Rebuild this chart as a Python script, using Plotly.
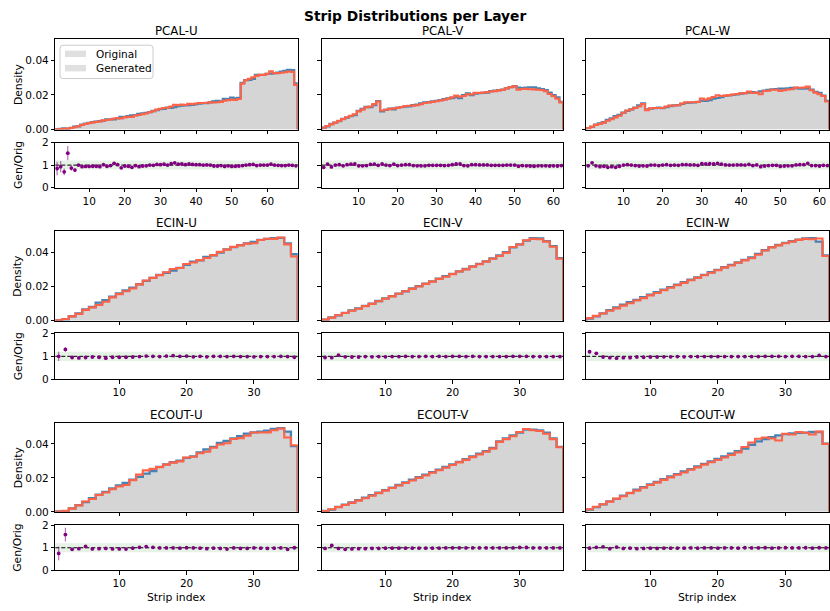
import numpy as np
import plotly.graph_objects as go

# ---------------- data ----------------
PANEL_NAMES = ["PCAL-U", "PCAL-V", "PCAL-W", "ECIN-U", "ECIN-V", "ECIN-W",
               "ECOUT-U", "ECOUT-V", "ECOUT-W"]
X_TICKS = [10, 20, 30, 40, 50, 60]
Y_TICKS_MAIN = [0.0, 0.02, 0.04]
Y_TICKS_RATIO = [0, 1, 2]

PCALU_ORIG = [0.0002,0.0003,0.0006,0.0004,0.0010,0.0017,0.0019,0.0028,0.0034,0.0039,
              0.0043,0.0046,0.0049,0.0052,0.0058,0.0059,0.0059,0.0065,0.0073,0.0073,
              0.0077,0.0081,0.0083,0.0090,0.0093,0.0096,0.0100,0.0107,0.0112,0.0118,
              0.0119,0.0126,0.0125,0.0130,0.0136,0.0138,0.0139,0.0141,0.0143,0.0147,
              0.0150,0.0153,0.0153,0.0157,0.0163,0.0165,0.0163,0.0177,0.0175,0.0184,
              0.0180,0.0183,0.0270,0.0285,0.0287,0.0293,0.0316,0.0316,0.0316,0.0322,
              0.0323,0.0326,0.0328,0.0335,0.0338,0.0345,0.0343,0.0266]
PCALU_GEN = [0.0002,0.0003,0.0004,0.0006,0.0009,0.0013,0.0019,0.0026,0.0032,0.0037,
             0.0041,0.0044,0.0046,0.0053,0.0055,0.0058,0.0064,0.0066,0.0064,0.0070,
             0.0073,0.0073,0.0081,0.0084,0.0089,0.0093,0.0100,0.0106,0.0115,0.0120,
             0.0124,0.0126,0.0133,0.0143,0.0141,0.0145,0.0142,0.0148,0.0147,0.0150,
             0.0153,0.0153,0.0155,0.0157,0.0156,0.0158,0.0160,0.0166,0.0170,0.0173,
             0.0171,0.0176,0.0265,0.0285,0.0293,0.0302,0.0310,0.0316,0.0316,0.0322,
             0.0336,0.0326,0.0325,0.0328,0.0331,0.0335,0.0333,0.0258]
PCALU_RATIO = [0.85,0.93,0.70,1.53,0.87,0.78,1.00,0.93,0.94,0.94,
               0.95,0.95,0.93,1.02,0.95,0.98,1.08,1.02,0.88,0.96,
               0.95,0.90,0.98,0.93,0.96,0.97,1.00,0.99,1.03,1.02,
               1.04,1.00,1.06,1.10,1.04,1.05,1.02,1.05,1.03,1.02,
               1.02,1.00,1.01,1.00,0.96,0.96,0.98,0.94,0.97,0.94,
               0.95,0.96,0.98,1.00,1.02,1.03,0.98,1.00,1.00,1.00,
               1.04,1.00,0.99,0.98,0.98,1.00,0.99,0.97]
PCALU_ERR = [0.30,0.25,0.15,0.32,0.12,0.08,0.05,0.04,0.04,0.03,
             0.03,0.03,0.03,0.03,0.03,0.03,0.03,0.03,0.02,0.02,
             0.02,0.02,0.02,0.02,0.02,0.02,0.02,0.02,0.02,0.02,
             0.02,0.02,0.02,0.02,0.02,0.02,0.02,0.02,0.02,0.02,
             0.02,0.02,0.02,0.02,0.02,0.02,0.02,0.02,0.02,0.02,
             0.02,0.02,0.02,0.02,0.02,0.02,0.02,0.02,0.02,0.02,
             0.02,0.02,0.02,0.02,0.02,0.02,0.02,0.02]

PCALV_ORIG = [0.0011,0.0019,0.0033,0.0040,0.0049,0.0062,0.0069,0.0077,0.0084,0.0108,
              0.0119,0.0131,0.0129,0.0141,0.0164,0.0105,0.0114,0.0120,0.0117,0.0127,
              0.0130,0.0133,0.0134,0.0141,0.0144,0.0151,0.0157,0.0158,0.0162,0.0165,
              0.0170,0.0175,0.0180,0.0182,0.0187,0.0181,0.0198,0.0209,0.0199,0.0208,
              0.0210,0.0212,0.0214,0.0222,0.0224,0.0228,0.0231,0.0238,0.0245,0.0250,
              0.0242,0.0239,0.0242,0.0243,0.0244,0.0238,0.0233,0.0228,0.0213,0.0198,
              0.0185,0.0160]
PCALV_GEN = [0.0010,0.0020,0.0030,0.0040,0.0050,0.0060,0.0070,0.0080,0.0088,0.0105,
             0.0115,0.0128,0.0133,0.0147,0.0162,0.0110,0.0114,0.0118,0.0122,0.0124,
             0.0130,0.0136,0.0137,0.0138,0.0140,0.0146,0.0153,0.0156,0.0160,0.0163,
             0.0168,0.0172,0.0178,0.0186,0.0196,0.0190,0.0194,0.0203,0.0203,0.0212,
             0.0212,0.0214,0.0216,0.0220,0.0222,0.0226,0.0229,0.0238,0.0245,0.0250,
             0.0230,0.0234,0.0235,0.0233,0.0232,0.0230,0.0228,0.0222,0.0205,0.0192,
             0.0178,0.0157]
PCALV_RATIO = [0.90,1.04,0.92,1.00,1.02,0.97,1.02,1.04,1.05,0.97,
               0.97,0.98,1.03,1.04,0.99,1.05,1.00,0.98,1.04,0.98,
               1.00,1.02,1.02,0.98,0.97,0.97,0.97,0.99,0.99,0.99,
               0.99,0.98,0.99,1.02,1.05,1.05,0.98,0.97,1.02,1.02,
               1.01,1.01,1.01,0.99,0.99,0.99,0.99,1.00,1.00,1.00,
               0.95,0.98,0.97,0.96,0.95,0.97,0.97,0.97,0.96,0.97,
               0.96,0.98]
PCALV_ERR = [0.05,0.04,0.03,0.03,0.02,0.02,0.02,0.02,0.02,0.02,
             0.02,0.02,0.02,0.02,0.02,0.02,0.02,0.02,0.02,0.02,
             0.02,0.02,0.02,0.02,0.02,0.02,0.02,0.02,0.02,0.02,
             0.02,0.02,0.02,0.02,0.02,0.02,0.02,0.02,0.02,0.02,
             0.02,0.02,0.02,0.02,0.02,0.02,0.02,0.02,0.02,0.02,
             0.02,0.02,0.02,0.02,0.02,0.02,0.02,0.02,0.02,0.02,
             0.02,0.02]

PCALW_ORIG = [0.0008,0.0015,0.0028,0.0035,0.0042,0.0055,0.0064,0.0077,0.0085,0.0097,
              0.0108,0.0116,0.0127,0.0139,0.0151,0.0116,0.0121,0.0124,0.0126,0.0124,
              0.0130,0.0136,0.0139,0.0141,0.0148,0.0154,0.0156,0.0157,0.0160,0.0167,
              0.0165,0.0170,0.0179,0.0183,0.0187,0.0194,0.0197,0.0200,0.0203,0.0207,
              0.0210,0.0213,0.0216,0.0212,0.0220,0.0225,0.0229,0.0232,0.0233,0.0236,
              0.0236,0.0238,0.0240,0.0240,0.0236,0.0237,0.0238,0.0231,0.0218,0.0212,
              0.0196,0.0165]
PCALW_GEN = [0.0008,0.0017,0.0027,0.0032,0.0040,0.0051,0.0059,0.0070,0.0080,0.0097,
             0.0110,0.0116,0.0124,0.0133,0.0147,0.0112,0.0122,0.0124,0.0124,0.0124,
             0.0133,0.0138,0.0139,0.0140,0.0150,0.0157,0.0158,0.0158,0.0159,0.0179,
             0.0173,0.0180,0.0188,0.0198,0.0194,0.0196,0.0199,0.0202,0.0205,0.0209,
             0.0210,0.0219,0.0211,0.0213,0.0204,0.0223,0.0224,0.0230,0.0230,0.0223,
             0.0227,0.0231,0.0233,0.0242,0.0241,0.0242,0.0248,0.0227,0.0213,0.0204,
             0.0194,0.0162]
PCALW_RATIO = [0.97,1.10,0.97,0.93,0.95,0.90,0.93,0.90,0.95,1.00,
               1.02,1.00,0.98,0.96,0.97,0.96,1.00,1.00,0.98,1.00,
               1.02,0.99,1.00,0.99,1.02,1.02,1.01,1.01,0.99,1.07,
               1.05,1.06,1.05,1.08,1.04,1.01,1.00,1.00,1.01,1.01,
               1.00,1.03,0.98,1.01,0.93,0.96,0.98,0.99,0.99,0.94,
               0.96,0.97,0.97,1.01,1.02,1.02,1.08,0.98,0.98,0.96,
               0.99,0.98]
PCALW_ERR = [0.05,0.04,0.03,0.03,0.02,0.02,0.02,0.02,0.02,0.02,
             0.02,0.02,0.02,0.02,0.02,0.02,0.02,0.02,0.02,0.02,
             0.02,0.02,0.02,0.02,0.02,0.02,0.02,0.02,0.02,0.02,
             0.02,0.02,0.02,0.02,0.02,0.02,0.02,0.02,0.02,0.02,
             0.02,0.02,0.02,0.02,0.02,0.02,0.02,0.02,0.02,0.02,
             0.02,0.02,0.02,0.02,0.02,0.02,0.02,0.02,0.02,0.02,
             0.02,0.02]

ECINU_ORIG = [0.0002,0.0008,0.0026,0.0043,0.0066,0.0080,0.0105,0.0120,0.0140,0.0160,
              0.0177,0.0193,0.0213,0.0232,0.0250,0.0268,0.0280,0.0293,0.0308,0.0326,
              0.0345,0.0353,0.0373,0.0382,0.0398,0.0417,0.0430,0.0441,0.0452,0.0460,
              0.0472,0.0478,0.0482,0.0484,0.0452,0.0388]
ECINU_GEN = [0.0002,0.0010,0.0025,0.0040,0.0063,0.0078,0.0092,0.0111,0.0136,0.0155,
             0.0172,0.0188,0.0212,0.0235,0.0250,0.0266,0.0283,0.0302,0.0308,0.0331,
             0.0340,0.0354,0.0366,0.0383,0.0402,0.0415,0.0431,0.0440,0.0450,0.0452,
             0.0471,0.0479,0.0478,0.0486,0.0446,0.0375]
ECINU_RATIO = [1.00,1.30,0.95,0.93,0.95,0.97,0.96,0.92,0.96,0.96,
               0.96,0.97,0.99,1.01,1.00,0.99,1.01,1.03,1.00,1.01,
               0.98,1.00,0.98,1.00,1.00,0.99,1.00,0.99,0.99,0.98,
               0.99,0.99,0.99,1.00,0.99,0.96]
ECINU_ERR = [0.20,0.10,0.05,0.03,0.02,0.02,0.02,0.02,0.02,0.02,
             0.02,0.02,0.02,0.02,0.02,0.02,0.02,0.02,0.02,0.02,
             0.02,0.02,0.02,0.02,0.02,0.02,0.02,0.02,0.02,0.02,
             0.02,0.02,0.02,0.02,0.02,0.02]

ECINV_ORIG = [0.0006,0.0019,0.0031,0.0046,0.0060,0.0072,0.0086,0.0100,0.0115,0.0130,
              0.0143,0.0158,0.0172,0.0188,0.0202,0.0216,0.0230,0.0245,0.0260,0.0273,
              0.0288,0.0302,0.0317,0.0332,0.0347,0.0364,0.0382,0.0400,0.0428,0.0446,
              0.0468,0.0482,0.0480,0.0465,0.0436,0.0365]
ECINV_GEN = [0.0006,0.0018,0.0032,0.0045,0.0058,0.0070,0.0085,0.0098,0.0114,0.0128,
             0.0142,0.0157,0.0172,0.0186,0.0200,0.0215,0.0228,0.0244,0.0257,0.0272,
             0.0287,0.0300,0.0316,0.0330,0.0345,0.0362,0.0378,0.0396,0.0430,0.0445,
             0.0470,0.0478,0.0476,0.0462,0.0432,0.0362]
ECINV_RATIO = [0.95,0.94,1.05,0.98,0.97,0.97,0.99,0.98,0.99,0.98,
               0.99,0.99,1.00,0.99,0.99,1.00,0.99,1.00,0.99,1.00,
               1.00,0.99,1.00,0.99,0.99,0.99,0.99,0.99,1.00,1.00,
               1.00,0.99,0.99,0.99,0.99,0.99]
ECINV_ERR = [0.05,0.04,0.03,0.02,0.02,0.02,0.02,0.02,0.02,0.02,
             0.02,0.02,0.02,0.02,0.02,0.02,0.02,0.02,0.02,0.02,
             0.02,0.02,0.02,0.02,0.02,0.02,0.02,0.02,0.02,0.02,
             0.02,0.02,0.02,0.02,0.02,0.02]

ECINW_ORIG = [0.0012,0.0025,0.0043,0.0062,0.0078,0.0094,0.0108,0.0122,0.0138,0.0152,
              0.0166,0.0181,0.0196,0.0210,0.0225,0.0239,0.0253,0.0268,0.0283,0.0297,
              0.0312,0.0326,0.0340,0.0355,0.0370,0.0390,0.0412,0.0430,0.0442,0.0455,
              0.0464,0.0474,0.0480,0.0482,0.0462,0.0382]
ECINW_GEN = [0.0015,0.0028,0.0042,0.0058,0.0072,0.0088,0.0102,0.0118,0.0132,0.0148,
             0.0162,0.0178,0.0192,0.0207,0.0221,0.0236,0.0250,0.0265,0.0280,0.0295,
             0.0310,0.0322,0.0338,0.0352,0.0365,0.0385,0.0410,0.0428,0.0440,0.0452,
             0.0462,0.0472,0.0478,0.0476,0.0480,0.0378]
ECINW_RATIO = [1.20,1.13,0.97,0.94,0.92,0.94,0.94,0.97,0.96,0.97,
               0.97,0.98,0.98,0.99,0.98,0.99,0.99,0.99,0.99,0.99,
               0.99,0.99,0.99,0.99,0.99,0.99,1.00,1.00,1.00,0.99,
               1.00,1.00,0.99,0.99,1.04,0.99]
ECINW_ERR = [0.06,0.04,0.03,0.02,0.02,0.02,0.02,0.02,0.02,0.02,
             0.02,0.02,0.02,0.02,0.02,0.02,0.02,0.02,0.02,0.02,
             0.02,0.02,0.02,0.02,0.02,0.02,0.02,0.02,0.02,0.02,
             0.02,0.02,0.02,0.02,0.02,0.02]

ECOUTU_ORIG = [0.0003,0.0004,0.0020,0.0040,0.0058,0.0080,0.0102,0.0118,0.0138,0.0155,
               0.0171,0.0190,0.0206,0.0225,0.0240,0.0265,0.0280,0.0292,0.0301,0.0318,
               0.0326,0.0350,0.0368,0.0382,0.0406,0.0418,0.0432,0.0446,0.0460,0.0468,
               0.0472,0.0478,0.0488,0.0492,0.0472,0.0387]
ECOUTU_GEN = [0.0002,0.0006,0.0019,0.0038,0.0061,0.0076,0.0099,0.0114,0.0133,0.0149,
              0.0158,0.0187,0.0219,0.0244,0.0253,0.0263,0.0278,0.0290,0.0297,0.0320,
              0.0324,0.0345,0.0354,0.0377,0.0396,0.0404,0.0429,0.0434,0.0448,0.0467,
              0.0467,0.0468,0.0480,0.0491,0.0438,0.0392]
ECOUTU_RATIO = [0.75,1.58,0.93,0.96,1.06,0.95,0.96,0.97,0.95,0.95,
                0.94,0.98,1.02,1.05,1.02,0.99,0.99,0.99,0.98,1.00,
                0.99,0.98,0.96,0.98,0.97,0.94,0.99,0.97,0.97,0.99,
                0.98,0.97,0.98,0.99,0.93,1.00]
ECOUTU_ERR = [0.30,0.30,0.06,0.04,0.03,0.02,0.02,0.02,0.02,0.02,
              0.02,0.02,0.02,0.02,0.02,0.02,0.02,0.02,0.02,0.02,
              0.02,0.02,0.02,0.02,0.02,0.02,0.02,0.02,0.02,0.02,
              0.02,0.02,0.02,0.02,0.02,0.02]

ECOUTV_ORIG = [0.0005,0.0013,0.0029,0.0043,0.0056,0.0069,0.0083,0.0098,0.0113,0.0128,
               0.0143,0.0158,0.0173,0.0189,0.0204,0.0219,0.0234,0.0249,0.0264,0.0279,
               0.0294,0.0310,0.0326,0.0342,0.0358,0.0376,0.0414,0.0432,0.0450,0.0466,
               0.0484,0.0484,0.0480,0.0466,0.0432,0.0382]
ECOUTV_GEN = [0.0005,0.0015,0.0028,0.0040,0.0053,0.0066,0.0080,0.0095,0.0110,0.0125,
              0.0140,0.0155,0.0170,0.0185,0.0200,0.0214,0.0230,0.0245,0.0260,0.0276,
              0.0291,0.0306,0.0322,0.0338,0.0354,0.0372,0.0412,0.0428,0.0445,0.0470,
              0.0488,0.0480,0.0476,0.0460,0.0428,0.0380]
ECOUTV_RATIO = [0.97,1.10,0.97,0.93,0.95,0.96,0.96,0.97,0.97,0.98,
                0.98,0.98,0.98,0.98,0.98,0.98,0.98,0.98,0.99,0.99,
                0.99,0.99,0.99,0.99,0.99,0.99,0.99,0.99,0.99,1.01,
                1.01,0.99,0.99,0.99,0.99,0.99]
ECOUTV_ERR = [0.06,0.04,0.03,0.02,0.02,0.02,0.02,0.02,0.02,0.02,
              0.02,0.02,0.02,0.02,0.02,0.02,0.02,0.02,0.02,0.02,
              0.02,0.02,0.02,0.02,0.02,0.02,0.02,0.02,0.02,0.02,
              0.02,0.02,0.02,0.02,0.02,0.02]

ECOUTW_ORIG = [0.0014,0.0028,0.0044,0.0062,0.0076,0.0095,0.0112,0.0130,0.0146,0.0162,
               0.0177,0.0192,0.0208,0.0222,0.0238,0.0252,0.0268,0.0282,0.0297,0.0312,
               0.0327,0.0342,0.0358,0.0372,0.0395,0.0415,0.0428,0.0440,0.0450,0.0458,
               0.0462,0.0465,0.0466,0.0470,0.0470,0.0402]
ECOUTW_GEN = [0.0015,0.0030,0.0045,0.0060,0.0078,0.0092,0.0110,0.0125,0.0142,0.0158,
              0.0172,0.0188,0.0203,0.0218,0.0232,0.0248,0.0262,0.0278,0.0292,0.0305,
              0.0320,0.0335,0.0350,0.0382,0.0408,0.0430,0.0438,0.0432,0.0420,0.0460,
              0.0455,0.0470,0.0466,0.0455,0.0472,0.0400]
ECOUTW_RATIO = [0.98,1.02,1.04,0.96,1.03,0.97,0.98,0.96,0.97,0.98,
                0.97,0.98,0.98,0.98,0.98,0.99,0.98,0.99,0.99,0.98,
                0.99,0.99,0.98,1.00,0.99,0.99,1.00,0.98,0.99,1.00,
                0.99,0.99,1.00,0.98,1.00,0.99]
ECOUTW_ERR = [0.06,0.04,0.03,0.02,0.02,0.02,0.02,0.02,0.02,0.02,
              0.02,0.02,0.02,0.02,0.02,0.02,0.02,0.02,0.02,0.02,
              0.02,0.02,0.02,0.02,0.02,0.02,0.02,0.02,0.02,0.02,
              0.02,0.02,0.02,0.02,0.02,0.02]

PANELS = [
    (PCALU_ORIG, PCALU_GEN, PCALU_RATIO, PCALU_ERR),
    (PCALV_ORIG, PCALV_GEN, PCALV_RATIO, PCALV_ERR),
    (PCALW_ORIG, PCALW_GEN, PCALW_RATIO, PCALW_ERR),
    (ECINU_ORIG, ECINU_GEN, ECINU_RATIO, ECINU_ERR),
    (ECINV_ORIG, ECINV_GEN, ECINV_RATIO, ECINV_ERR),
    (ECINW_ORIG, ECINW_GEN, ECINW_RATIO, ECINW_ERR),
    (ECOUTU_ORIG, ECOUTU_GEN, ECOUTU_RATIO, ECOUTU_ERR),
    (ECOUTV_ORIG, ECOUTV_GEN, ECOUTV_RATIO, ECOUTV_ERR),
    (ECOUTW_ORIG, ECOUTW_GEN, ECOUTW_RATIO, ECOUTW_ERR),
]

# ---------------- layout geometry (pixels) ----------------
W, H = 830, 611
COL_X = [(55.3, 297.7), (321.7, 563.3), (586.2, 829.3)]
ROW_MAIN = [(33.3, 126.0), (229.3, 321.0), (425.0, 516.0)]
ROW_RATIO = [(139.3, 185.3), (334.0, 380.7), (529.5, 575.7)]
FONT = "DejaVu Sans"
TICKFONT = dict(family=FONT, size=10.5, color="#000")

FILL_COLOR = "#d5d5d5"
ORIG_COLOR = "#4682b4"
GEN_COLOR = "#ff6347"
RATIO_COLOR = "#800080"


def fx(p):
    return p / W


def fy(p):
    return 1 - p / H


def step_xy(vals):
    v = np.asarray(vals, dtype=float)
    edges = np.arange(len(v) + 1) + 0.5
    xs = np.concatenate([[edges[0]], edges, [edges[-1]]])
    ys = np.concatenate([[0.0], v, [v[-1]], [0.0]])
    return xs, ys


fig = go.Figure()
layout = dict(
    width=W, height=H,
    margin=dict(l=0, r=0, t=0, b=0, pad=0),
    paper_bgcolor="white", plot_bgcolor="white",
    showlegend=False,
    font=dict(family=FONT, size=10.5, color="#000"),
)
shapes = []
annotations = []

axis_common = dict(showline=True, mirror=True, linecolor="#000", linewidth=0.9,
                   showgrid=False, zeroline=False, ticks="outside", ticklen=3.5,
                   tickwidth=0.9, tickcolor="#000", tickfont=TICKFONT)

for k, (orig, gen, ratio, err) in enumerate(PANELS):
    r, c = divmod(k, 3)
    n = len(orig)
    mi, ri = 2 * k + 1, 2 * k + 2
    xm, ym = ("x" if mi == 1 else f"x{mi}"), ("y" if mi == 1 else f"y{mi}")
    xr, yr = f"x{ri}", f"y{ri}"
    xkey_m = "xaxis" if mi == 1 else f"xaxis{mi}"
    ykey_m = "yaxis" if mi == 1 else f"yaxis{mi}"
    xkey_r, ykey_r = f"xaxis{ri}", f"yaxis{ri}"

    xs, ys_o = step_xy(orig)
    _, ys_g = step_xy(gen)

    fig.add_trace(go.Scatter(x=xs, y=ys_o, mode="lines", line=dict(width=0, shape="hv"),
                             fill="tozeroy", fillcolor=FILL_COLOR, xaxis=xm, yaxis=ym,
                             name="Original", hoverinfo="skip"))
    fig.add_trace(go.Scatter(x=xs, y=ys_o, mode="lines",
                             line=dict(color=ORIG_COLOR, width=2.3, shape="hv"),
                             xaxis=xm, yaxis=ym, name="Original"))
    fig.add_trace(go.Scatter(x=xs, y=ys_g, mode="lines",
                             line=dict(color=GEN_COLOR, width=2.1, shape="hv"),
                             xaxis=xm, yaxis=ym, name="Generated"))

    strips = np.arange(1, n + 1)
    fig.add_trace(go.Scatter(x=strips, y=ratio, mode="markers",
                             marker=dict(color=RATIO_COLOR, size=3.8),
                             error_y=dict(type="data", array=err, visible=True,
                                          color="rgba(128,0,128,0.55)", thickness=1.2, width=0),
                             xaxis=xr, yaxis=yr, name="Gen/Orig"))

    xticks = [t for t in X_TICKS if t < n + 0.5]
    xdom = [fx(COL_X[c][0]), fx(COL_X[c][1])]
    layout[xkey_m] = dict(axis_common, domain=xdom, anchor=ym, range=[0.5, n + 0.5],
                          tickvals=xticks, showticklabels=False)
    layout[ykey_m] = dict(axis_common, domain=[fy(ROW_MAIN[r][1]), fy(ROW_MAIN[r][0])],
                          anchor=xm, range=[0, 0.0525], tickvals=Y_TICKS_MAIN,
                          tickformat=".2f", showticklabels=(c == 0))
    layout[xkey_r] = dict(axis_common, domain=xdom, anchor=yr, range=[0.5, n + 0.5],
                          tickvals=xticks, showticklabels=True)
    layout[ykey_r] = dict(axis_common, domain=[fy(ROW_RATIO[r][1]), fy(ROW_RATIO[r][0])],
                          anchor=xr, range=[0, 2], tickvals=Y_TICKS_RATIO,
                          showticklabels=(c == 0))

    # tolerance band and reference line
    shapes.append(dict(type="rect", xref=f"{xr} domain", yref=yr, x0=0, x1=1, y0=0.8, y1=1.2,
                       fillcolor="rgba(0,128,0,0.1)", line=dict(width=0), layer="below"))
    shapes.append(dict(type="line", xref=f"{xr} domain", yref=yr, x0=0, x1=1, y0=1, y1=1,
                       line=dict(color="#000", width=1, dash="4px,2px"), layer="below"))

    # panel title
    annotations.append(dict(text=PANEL_NAMES[k], xref="paper", yref="paper",
                            x=fx((COL_X[c][0] + COL_X[c][1]) / 2), y=fy(ROW_MAIN[r][0] - 7.5),
                            xanchor="center", yanchor="middle", showarrow=False,
                            font=dict(family=FONT, size=11.8, color="#000")))
    if c == 0:
        annotations.append(dict(text="Density", xref="paper", yref="paper", textangle=-90,
                                x=fx(18), y=fy((ROW_MAIN[r][0] + ROW_MAIN[r][1]) / 2),
                                xanchor="center", yanchor="middle", showarrow=False,
                                font=dict(family=FONT, size=10.8, color="#000")))
        annotations.append(dict(text="Gen/Orig", xref="paper", yref="paper", textangle=-90,
                                x=fx(18), y=fy((ROW_RATIO[r][0] + ROW_RATIO[r][1]) / 2),
                                xanchor="center", yanchor="middle", showarrow=False,
                                font=dict(family=FONT, size=10.8, color="#000")))
    if r == 2:
        annotations.append(dict(text="Strip index", xref="paper", yref="paper",
                                x=fx((COL_X[c][0] + COL_X[c][1]) / 2), y=fy(603),
                                xanchor="center", yanchor="middle", showarrow=False,
                                font=dict(family=FONT, size=10.8, color="#000")))

# suptitle
annotations.append(dict(text="<b>Strip Distributions per Layer</b>", xref="paper", yref="paper",
                        x=0.5, y=fy(10), xanchor="center", yanchor="middle", showarrow=False,
                        font=dict(family=FONT, size=13.8, color="#000")))

# legend (drawn in the first panel)
def rounded_rect(x0, y0, x1, y1, rad):
    rx, ry = rad / W, rad / H
    X0, X1 = fx(x0), fx(x1)
    Y0, Y1 = fy(y0), fy(y1)  # Y0 top, Y1 bottom in paper
    return (f"M{X0 + rx},{Y0} L{X1 - rx},{Y0} Q{X1},{Y0} {X1},{Y0 - ry} "
            f"L{X1},{Y1 + ry} Q{X1},{Y1} {X1 - rx},{Y1} L{X0 + rx},{Y1} "
            f"Q{X0},{Y1} {X0},{Y1 + ry} L{X0},{Y0 - ry} Q{X0},{Y0} {X0 + rx},{Y0} Z")

shapes.append(dict(type="path", xref="paper", yref="paper", path=rounded_rect(60, 40, 153, 74, 3),
                   fillcolor="rgba(255,255,255,0.85)", line=dict(color="#cccccc", width=1),
                   layer="above"))
LEGEND_LABELS = ["Original", "Generated"]
for i, lab in enumerate(LEGEND_LABELS):
    yc = 48.8 + i * 14.6
    shapes.append(dict(type="rect", xref="paper", yref="paper", x0=fx(65), x1=fx(86),
                       y0=fy(yc - 3.3), y1=fy(yc + 3.3), fillcolor="#e0e0e0",
                       line=dict(width=0), layer="above"))
    annotations.append(dict(text=lab, xref="paper", yref="paper", x=fx(94), y=fy(yc),
                            xanchor="left", yanchor="middle", showarrow=False,
                            font=dict(family=FONT, size=10.5, color="#000")))

layout["shapes"] = shapes
layout["annotations"] = annotations
fig.update_layout(**layout)
fig.write_html("out.html")
